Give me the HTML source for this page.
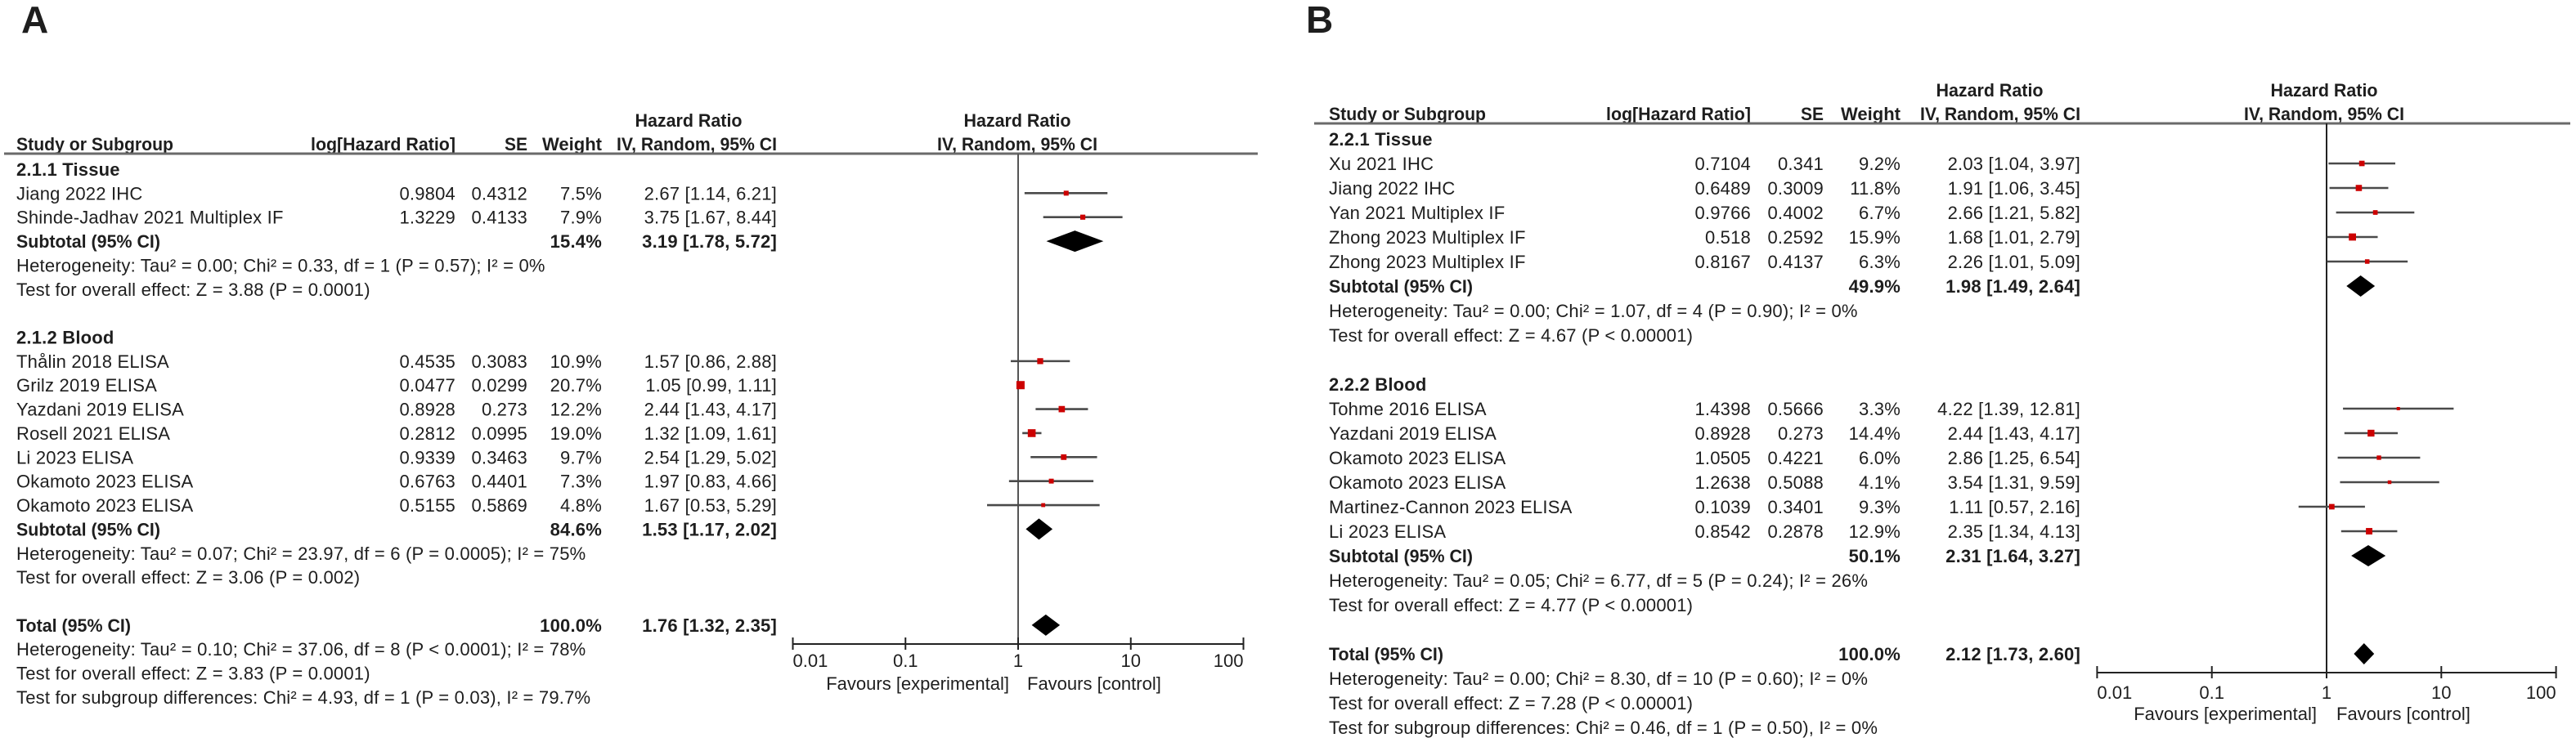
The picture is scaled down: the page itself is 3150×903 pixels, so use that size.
<!DOCTYPE html>
<html><head><meta charset="utf-8">
<style>
html,body{margin:0;padding:0;background:#fff;}
svg{display:block;}
text{font-family:"Liberation Sans",Arial,sans-serif;fill:#1e1e1e;}
</style></head>
<body>
<svg id="chart" width="3150" height="903" viewBox="0 0 3150 903" xmlns="http://www.w3.org/2000/svg">
<rect width="3150" height="903" fill="#fff"/>
</svg>
<script>
// ---------- Panel A data ----------
const aGroupTitles = ['2.1.1 Tissue', '2.1.2 Blood'];
const aNames1 = ['Jiang 2022 IHC', 'Shinde-Jadhav 2021 Multiplex IF'];
const aLog1 = ['0.9804', '1.3229'];
const aSE1 = ['0.4312', '0.4133'];
const aW1 = [7.5, 7.9];
const aHR1 = [2.67, 3.75];
const aLo1 = [1.14, 1.67];
const aHi1 = [6.21, 8.44];
const aNames2 = ['Thålin 2018 ELISA', 'Grilz 2019 ELISA', 'Yazdani 2019 ELISA', 'Rosell 2021 ELISA', 'Li 2023 ELISA', 'Okamoto 2023 ELISA', 'Okamoto 2023 ELISA'];
const aLog2 = ['0.4535', '0.0477', '0.8928', '0.2812', '0.9339', '0.6763', '0.5155'];
const aSE2 = ['0.3083', '0.0299', '0.273', '0.0995', '0.3463', '0.4401', '0.5869'];
const aW2 = [10.9, 20.7, 12.2, 19.0, 9.7, 7.3, 4.8];
const aHR2 = [1.57, 1.05, 2.44, 1.32, 2.54, 1.97, 1.67];
const aLo2 = [0.86, 0.99, 1.43, 1.09, 1.29, 0.83, 0.53];
const aHi2 = [2.88, 1.11, 4.17, 1.61, 5.02, 4.66, 5.29];
const aSubW = [15.4, 84.6];
const aSubHR = [3.19, 1.53];
const aSubLo = [1.78, 1.17];
const aSubHi = [5.72, 2.02];
const aSubHet = ['Heterogeneity: Tau² = 0.00; Chi² = 0.33, df = 1 (P = 0.57); I² = 0%', 'Heterogeneity: Tau² = 0.07; Chi² = 23.97, df = 6 (P = 0.0005); I² = 75%'];
const aSubTest = ['Test for overall effect: Z = 3.88 (P = 0.0001)', 'Test for overall effect: Z = 3.06 (P = 0.002)'];
const aTotal = [100.0, 1.76, 1.32, 2.35];
const aTotalLines = ['Heterogeneity: Tau² = 0.10; Chi² = 37.06, df = 8 (P < 0.0001); I² = 78%', 'Test for overall effect: Z = 3.83 (P = 0.0001)', 'Test for subgroup differences: Chi² = 4.93, df = 1 (P = 0.03), I² = 79.7%'];

// ---------- Panel B data ----------
const bGroupTitles = ['2.2.1 Tissue', '2.2.2 Blood'];
const bNames1 = ['Xu 2021 IHC', 'Jiang 2022 IHC', 'Yan 2021 Multiplex IF', 'Zhong 2023 Multiplex IF', 'Zhong 2023 Multiplex IF'];
const bLog1 = ['0.7104', '0.6489', '0.9766', '0.518', '0.8167'];
const bSE1 = ['0.341', '0.3009', '0.4002', '0.2592', '0.4137'];
const bW1 = [9.2, 11.8, 6.7, 15.9, 6.3];
const bHR1 = [2.03, 1.91, 2.66, 1.68, 2.26];
const bLo1 = [1.04, 1.06, 1.21, 1.01, 1.01];
const bHi1 = [3.97, 3.45, 5.82, 2.79, 5.09];
const bNames2 = ['Tohme 2016 ELISA', 'Yazdani 2019 ELISA', 'Okamoto 2023 ELISA', 'Okamoto 2023 ELISA', 'Martinez-Cannon 2023 ELISA', 'Li 2023 ELISA'];
const bLog2 = ['1.4398', '0.8928', '1.0505', '1.2638', '0.1039', '0.8542'];
const bSE2 = ['0.5666', '0.273', '0.4221', '0.5088', '0.3401', '0.2878'];
const bW2 = [3.3, 14.4, 6.0, 4.1, 9.3, 12.9];
const bHR2 = [4.22, 2.44, 2.86, 3.54, 1.11, 2.35];
const bLo2 = [1.39, 1.43, 1.25, 1.31, 0.57, 1.34];
const bHi2 = [12.81, 4.17, 6.54, 9.59, 2.16, 4.13];
const bSubW = [49.9, 50.1];
const bSubHR = [1.98, 2.31];
const bSubLo = [1.49, 1.64];
const bSubHi = [2.64, 3.27];
const bSubHet = ['Heterogeneity: Tau² = 0.00; Chi² = 1.07, df = 4 (P = 0.90); I² = 0%', 'Heterogeneity: Tau² = 0.05; Chi² = 6.77, df = 5 (P = 0.24); I² = 26%'];
const bSubTest = ['Test for overall effect: Z = 4.67 (P < 0.00001)', 'Test for overall effect: Z = 4.77 (P < 0.00001)'];
const bTotal = [100.0, 2.12, 1.73, 2.60];
const bTotalLines = ['Heterogeneity: Tau² = 0.00; Chi² = 8.30, df = 10 (P = 0.60); I² = 0%', 'Test for overall effect: Z = 7.28 (P < 0.00001)', 'Test for subgroup differences: Chi² = 0.46, df = 1 (P = 0.50), I² = 0%'];

const tickVals = [0.01, 0.1, 1, 10, 100];
const tickLabels = ['0.01', '0.1', '1', '10', '100'];

const NS = 'http://www.w3.org/2000/svg';
const svg = document.getElementById('chart');
const FS = 22;

function mk(tag, attrs, parent) {
  const el = document.createElementNS(NS, tag);
  for (const k in attrs) el.setAttribute(k, attrs[k]);
  (parent || svg).appendChild(el);
  return el;
}
function txt(g, x, y, s, anchor, bold, name, size, fill, len) {
  const el = mk('text', {x: x, y: y, 'font-size': size || FS, 'text-anchor': anchor || 'start'}, g);
  if (!size && !len) el.setAttribute('letter-spacing', '0.2');
  if (bold) el.setAttribute('font-weight', 'bold');
  if (fill) el.setAttribute('fill', fill);
  if (len) { el.setAttribute('textLength', len); el.setAttribute('lengthAdjust', 'spacingAndGlyphs'); }
  
  
  el.textContent = s;
  return el;
}
function ci(h, l, u) { return h.toFixed(2) + ' [' + l.toFixed(2) + ', ' + u.toFixed(2) + ']'; }

function drawPanel(P, D) {
  const g = mk('g', {});
  
  
  const xs = v => P.x1 + (Math.log10(v)) * P.dec;
  const rowY = i => P.y0 + i * P.pitch;
  const BL = 8;
  txt(g, P.letterX, 40, P.letter, 'start', true, 'panel-label', 46, '#000');
  txt(g, P.hrHdrX, P.hdr1, 'Hazard Ratio', 'middle', true, 'hr-column-header', null, null, 131);
  txt(g, P.plotHdrX, P.hdr1, 'Hazard Ratio', 'middle', true, 'plot-header', null, null, 131);
  txt(g, P.cStudy, P.hdr2, 'Study or Subgroup', 'start', true, 'study-column-header', null, null, 192);
  txt(g, P.cLog, P.hdr2, 'log[Hazard Ratio]', 'end', true, 'loghr-column-header', null, null, 177);
  txt(g, P.cSE, P.hdr2, 'SE', 'end', true, 'se-column-header', null, null, 28);
  txt(g, P.cW, P.hdr2, 'Weight', 'end', true, 'weight-column-header', null, null, 73);
  txt(g, P.cCI, P.hdr2, 'IV, Random, 95% CI', 'end', true, 'ci-column-header', null, null, 196);
  txt(g, P.plotHdrX, P.hdr2, 'IV, Random, 95% CI', 'middle', true, 'plot-subheader', null, null, 196);
  let l = mk('line', {x1: P.lineL, x2: P.lineR, y1: P.uline, y2: P.uline, stroke: '#6a6a6a', 'stroke-width': 3}, g);
  
  
  l = mk('line', {x1: xs(1), x2: xs(1), y1: P.uline, y2: P.axisY, stroke: P.nullCol, 'stroke-width': 2}, g);
  
  

  function diamond(r, h, lo, hi, name) {
    const y = rowY(r);
    const d = mk('polygon', {points: xs(lo) + ',' + y + ' ' + xs(h) + ',' + (y - 13) + ' ' + xs(hi) + ',' + y + ' ' + xs(h) + ',' + (y + 13), fill: '#000'}, g);
    
    
  }
  let r = 0;
  for (let gi = 0; gi < 2; gi++) {
    txt(g, P.cStudy, rowY(r) + BL, D.titles[gi], 'start', true, 'subgroup-title');
    r++;
    const S = D.groups[gi];
    for (let i = 0; i < S.names.length; i++) {
      const y = rowY(r);
      txt(g, P.cStudy, y + BL, S.names[i], 'start', false, 'study-name');
      txt(g, P.cLog, y + BL, S.log[i], 'end', false, 'loghr-value');
      txt(g, P.cSE, y + BL, S.se[i], 'end', false, 'se-value');
      txt(g, P.cW, y + BL, S.w[i].toFixed(1) + '%', 'end', false, 'weight-value');
      txt(g, P.cCI, y + BL, ci(S.hr[i], S.lo[i], S.hi[i]), 'end', false, 'ci-value');
      const cl = mk('line', {x1: xs(S.lo[i]), x2: xs(S.hi[i]), y1: y, y2: y, stroke: '#4a4a4a', 'stroke-width': 2.6}, g);
      
      
      const sz = 2.2 * Math.sqrt(S.w[i]);
      const sq = mk('rect', {x: xs(S.hr[i]) - sz / 2, y: y - sz / 2, width: sz, height: sz, fill: '#cc0000'}, g);
      
      
      r++;
    }
    const y = rowY(r);
    txt(g, P.cStudy, y + BL, 'Subtotal (95% CI)', 'start', true, 'subtotal-label', null, null, 176);
    txt(g, P.cW, y + BL, D.subW[gi].toFixed(1) + '%', 'end', true, 'subtotal-weight');
    txt(g, P.cCI, y + BL, ci(D.subHR[gi], D.subLo[gi], D.subHi[gi]), 'end', true, 'subtotal-ci');
    diamond(r, D.subHR[gi], D.subLo[gi], D.subHi[gi], 'subtotal-diamond');
    r++;
    txt(g, P.cStudy, rowY(r) + BL, D.subHet[gi], 'start', false, 'heterogeneity-text');
    r++;
    txt(g, P.cStudy, rowY(r) + BL, D.subTest[gi], 'start', false, 'overall-effect-text');
    r += 2;
  }
  const ty = rowY(r);
  txt(g, P.cStudy, ty + BL, 'Total (95% CI)', 'start', true, 'total-label', null, null, 140);
  txt(g, P.cW, ty + BL, D.total[0].toFixed(1) + '%', 'end', true, 'total-weight');
  txt(g, P.cCI, ty + BL, ci(D.total[1], D.total[2], D.total[3]), 'end', true, 'total-ci');
  diamond(r, D.total[1], D.total[2], D.total[3], 'total-diamond');
  for (let k = 0; k < D.totalLines.length; k++) {
    r++;
    txt(g, P.cStudy, rowY(r) + BL, D.totalLines[k], 'start', false, 'total-footnote');
  }
  l = mk('line', {x1: xs(tickVals[0]), x2: xs(tickVals[tickVals.length - 1]), y1: P.axisY, y2: P.axisY, stroke: '#222', 'stroke-width': 2}, g);
  
  
  for (let k = 0; k < tickVals.length; k++) {
    const x = xs(tickVals[k]);
    const t = mk('line', {x1: x, x2: x, y1: P.axisY - 8, y2: P.axisY + 7, stroke: '#222', 'stroke-width': 2}, g);
    
    
    const anc = k === 0 ? 'start' : (k === tickVals.length - 1 ? 'end' : 'middle');
    txt(g, x, P.tickY, tickLabels[k], anc, false, 'x-tick-label', 22, '#333');
  }
  txt(g, xs(1) - P.favGap, P.favY, 'Favours [experimental]', 'end', false, 'favours-experimental-label', 22, '#333');
  txt(g, xs(1) + P.favGap, P.favY, 'Favours [control]', 'start', false, 'favours-control-label', 22, '#333');
}

drawPanel(
  {name: 'panel-a', letter: 'A', letterX: 26, x1: 1245, dec: 137.75, y0: 207, pitch: 29.36,
   cStudy: 20, cLog: 557, cSE: 645, cW: 736, cCI: 950, hrHdrX: 842, plotHdrX: 1244,
   hdr1: 155, hdr2: 184, uline: 188, lineL: 5, lineR: 1538, axisY: 788, tickY: 816, favY: 844, favGap: 11, nullCol: '#555'},
  {titles: aGroupTitles,
   groups: [{names: aNames1, log: aLog1, se: aSE1, w: aW1, hr: aHR1, lo: aLo1, hi: aHi1},
            {names: aNames2, log: aLog2, se: aSE2, w: aW2, hr: aHR2, lo: aLo2, hi: aHi2}],
   subW: aSubW, subHR: aSubHR, subLo: aSubLo, subHi: aSubHi, subHet: aSubHet, subTest: aSubTest,
   total: aTotal, totalLines: aTotalLines});

drawPanel(
  {name: 'panel-b', letter: 'B', letterX: 1597, x1: 2845, dec: 140.3, y0: 170, pitch: 30,
   cStudy: 1625, cLog: 2141, cSE: 2230, cW: 2324, cCI: 2544, hrHdrX: 2433, plotHdrX: 2842,
   hdr1: 118, hdr2: 147, uline: 151, lineL: 1607, lineR: 3143, axisY: 823, tickY: 855, favY: 881, favGap: 12, nullCol: '#222'},
  {titles: bGroupTitles,
   groups: [{names: bNames1, log: bLog1, se: bSE1, w: bW1, hr: bHR1, lo: bLo1, hi: bHi1},
            {names: bNames2, log: bLog2, se: bSE2, w: bW2, hr: bHR2, lo: bLo2, hi: bHi2}],
   subW: bSubW, subHR: bSubHR, subLo: bSubLo, subHi: bSubHi, subHet: bSubHet, subTest: bSubTest,
   total: bTotal, totalLines: bTotalLines});
</script>
</body></html>
